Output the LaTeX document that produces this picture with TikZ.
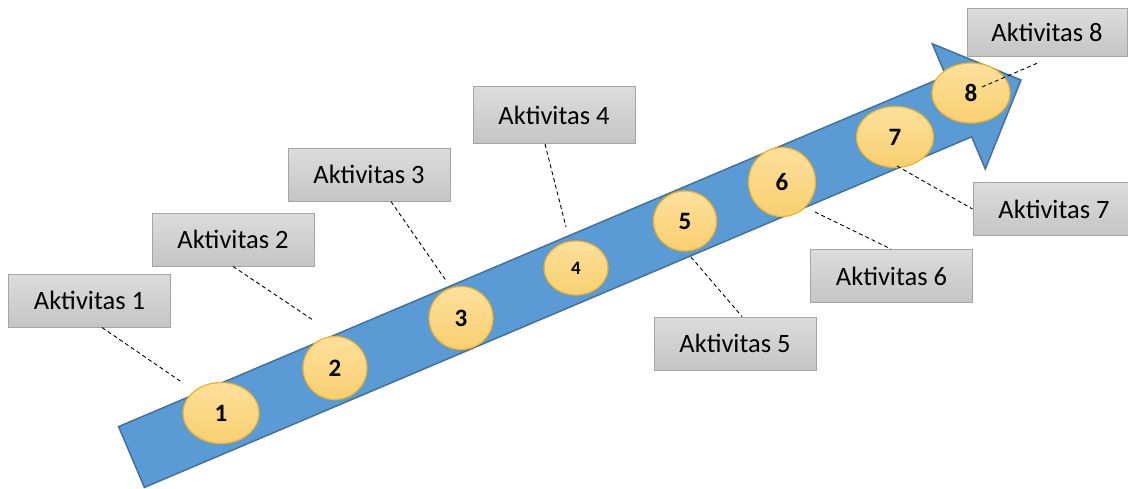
\documentclass[tikz,border=0pt]{standalone}
\usepackage{fontspec}
\setmainfont{Carlito}
\usetikzlibrary{shapes.geometric}

\definecolor{arrowfill}{RGB}{91,155,213}
\definecolor{arrowline}{RGB}{65,113,156}
\definecolor{dottop}{RGB}{253,224,156}
\definecolor{dotbot}{RGB}{249,207,112}
\definecolor{dotline}{RGB}{238,178,36}
\definecolor{boxtop}{RGB}{220,220,220}
\definecolor{boxbot}{RGB}{197,197,197}
\definecolor{boxline}{RGB}{165,165,165}

\tikzset{
  stage/.style={ellipse, inner sep=0pt, draw=dotline, line width=1.2pt,
    top color=dottop, bottom color=dotbot,
    font=\fontsize{25}{27}\selectfont\bfseries},
  label box/.style={rectangle, inner sep=0pt, draw=boxline, line width=1pt,
    top color=boxtop, bottom color=boxbot,
    minimum width=162pt, minimum height=53pt,
    font=\fontsize{26.5}{30}\selectfont},
  leader/.style={draw=black, line width=0.9pt, dash pattern=on 4pt off 3pt},
}

\begin{document}
\begin{tikzpicture}[x=1pt, y=-1pt]
\useasboundingbox (0,0) rectangle (1128,488);

% the rising arrow
\filldraw[fill=arrowfill, draw=arrowline, line width=1.5pt, line join=miter]
  (118.6,426.6) -- (945.9,76.0) -- (932.3,43.8) -- (1021,80)
  -- (985.3,169.0) -- (971.7,136.8) -- (144.4,487.4) -- cycle;

% numbered stages along the arrow
\node[stage, minimum width=76pt, minimum height=61pt] (c1) at (221,413) {1};
\node[stage, minimum width=64pt, minimum height=63pt] (c2) at (335,368) {2};
\node[stage, minimum width=64pt, minimum height=63pt] (c3) at (461,318) {3};
\node[stage, minimum width=64pt, minimum height=54pt,
      font=\fontsize{19}{21}\selectfont\bfseries] (c4) at (576,268) {4};
\node[stage, minimum width=63pt, minimum height=60pt] (c5) at (685,221) {5};
\node[stage, minimum width=67pt, minimum height=69pt] (c6) at (782,182) {6};
\node[stage, minimum width=77pt, minimum height=61pt] (c7) at (895,137) {7};
\node[stage, minimum width=78pt, minimum height=60pt] (c8) at (971,93) {8};

% activity labels
\node[label box] (b1) at (89.5,300.5) {Aktivitas 1};
\node[label box] (b2) at (233,239.5) {Aktivitas 2};
\node[label box] (b3) at (369,174.5) {Aktivitas 3};
\node[label box, minimum height=57pt] (b4) at (554,115) {Aktivitas 4};
\node[label box] (b5) at (735,343.5) {Aktivitas 5};
\node[label box] (b6) at (891.5,276) {Aktivitas 6};
\node[label box] (b7) at (1054,209) {Aktivitas 7};
\node[label box, minimum width=160pt, minimum height=48pt] (b8) at (1047,32) {Aktivitas 8};

% leader end points
\coordinate (e1) at (183,383);
\coordinate (e2) at (313,320);
\coordinate (e3) at (447,282);
\coordinate (e4) at (566,227);
\coordinate (e5) at (691,257);
\coordinate (e6) at (815,212);
\coordinate (e7) at (897,166);
\coordinate (e8) at (982,87);
\coordinate (f8) at (1040,62);

% dashed leaders
\draw[leader] ([xshift=12.5pt]b1.south) -- (e1);
\draw[leader] (b2.south) -- (e2);
\draw[leader] ([xshift=22pt]b3.south) -- (e3);
\draw[leader] ([xshift=-9pt]b4.south) -- (e4);
\draw[leader] (e5) -- ([xshift=7pt]b5.north);
\draw[leader] (e6) -- ([xshift=-0.5pt]b6.north);
\draw[leader] (e7) -- (b7.west);
\draw[leader] (e8) -- (f8);
\end{tikzpicture}
\end{document}
